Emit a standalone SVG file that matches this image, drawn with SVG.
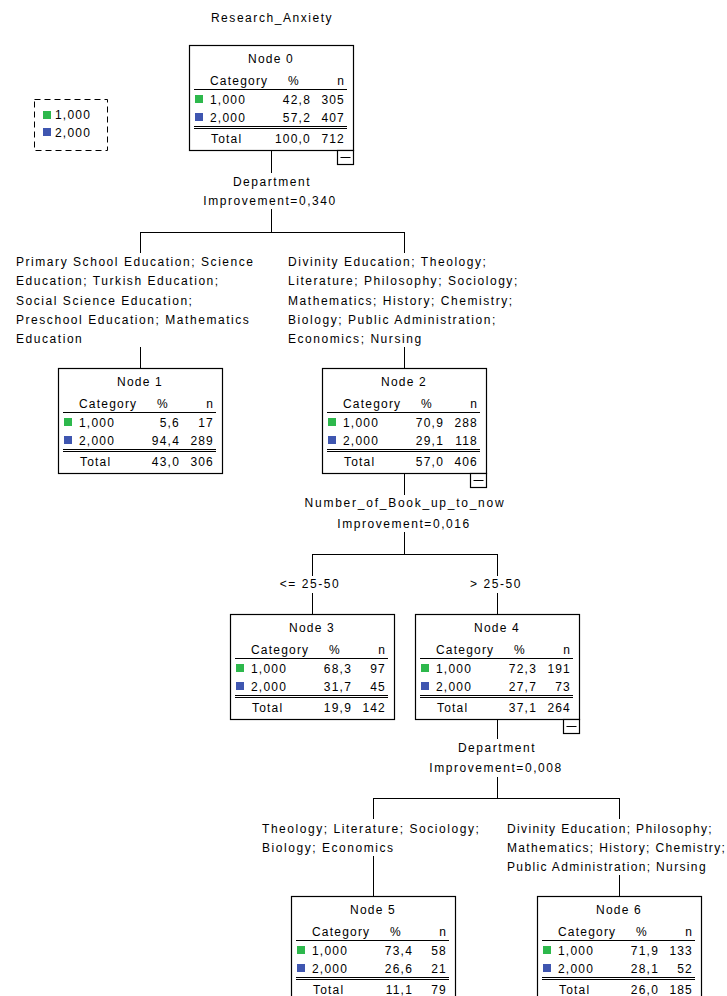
<svg xmlns="http://www.w3.org/2000/svg" width="727" height="996" viewBox="0 0 727 996">
<style>
text{font-family:"Liberation Sans",Arial,sans-serif;font-size:12px;letter-spacing:1.2px;fill:#000}
.lb{letter-spacing:1.55px}
.lb2{letter-spacing:1.35px}
.m{text-anchor:middle}
.e{text-anchor:end}
.box{fill:#fff;stroke:#000;stroke-width:1.2}
.ln{stroke:#000;stroke-width:1;fill:none}
.band{fill:#e8e8e8}
.g{fill:#2db84c}
.b{fill:#3f56b0}
</style>
<rect width="727" height="996" fill="#fff"/>
<text class="m lb" x="272" y="22">Research_Anxiety</text>
<g id="legend">
<rect x="34.5" y="99.5" width="73" height="51" fill="none" stroke="#000" stroke-width="1" stroke-dasharray="6,4"/>
<rect class="g" x="43" y="111" width="8" height="8"/>
<text x="55" y="119">1,000</text>
<rect class="b" x="43" y="128" width="8" height="8"/>
<text x="55" y="137">2,000</text>
</g>
<g id="connectors" class="ln">
<path class="ln" d="M271.5 150V173M271.5 209V232.5M140.5 232.5H404.5M140.5 232V253M404.5 232V253M140.5 347V368M404.5 347V368"/>
<path class="ln" d="M404.5 473V495M404.5 532V554.5M312.5 554.5H497.5M312.5 554V576M497.5 554V576M312.5 593V614M497.5 593V614"/>
<path class="ln" d="M497.5 719V739M497.5 777V798.5M373.5 798.5H619.5M373.5 798V819M619.5 798V819M373.5 856V896M619.5 875V896"/>
</g>
<g id="labels">
<text class="m lb" x="272" y="186">Department</text>
<text class="m lb" x="270" y="205">Improvement=0,340</text>
<text class="lb" x="16" y="266">Primary School Education; Science</text>
<text class="lb" x="16" y="285">Education; Turkish Education;</text>
<text class="lb" x="16" y="305">Social Science Education;</text>
<text class="lb" x="16" y="324">Preschool Education; Mathematics</text>
<text class="lb" x="16" y="343">Education</text>
<text class="lb" x="288" y="266">Divinity Education; Theology;</text>
<text class="lb" x="288" y="285">Literature; Philosophy; Sociology;</text>
<text class="lb" x="288" y="305">Mathematics; History; Chemistry;</text>
<text class="lb" x="288" y="324">Biology; Public Administration;</text>
<text class="lb" x="288" y="343">Economics; Nursing</text>
<text class="m" x="405" y="507" style="letter-spacing:1.75px">Number_of_Book_up_to_now</text>
<text class="m lb" x="404" y="528">Improvement=0,016</text>
<text class="m lb" x="310" y="588">&lt;= 25-50</text>
<text class="m lb" x="496" y="588">&gt; 25-50</text>
<text class="m lb" x="497" y="752">Department</text>
<text class="m lb" x="496" y="772">Improvement=0,008</text>
<text class="lb" x="262" y="833">Theology; Literature; Sociology;</text>
<text class="lb" x="262" y="852">Biology; Economics</text>
<text class="lb2" x="507" y="833">Divinity Education; Philosophy;</text>
<text class="lb2" x="507" y="852">Mathematics; History; Chemistry;</text>
<text class="lb2" x="507" y="871">Public Administration; Nursing</text>
</g>
<defs>
<g id="frame">
<rect class="box" x="0.5" y="0.5" width="164" height="105"/>
<text x="21" y="40">Category</text>
<text x="99" y="40">%</text>
<text class="e" x="156" y="40">n</text>
<line class="ln" x1="5" y1="44.5" x2="158" y2="44.5"/>
<line class="ln" x1="5" y1="81.5" x2="158" y2="81.5"/>
<line class="ln" x1="5" y1="83.5" x2="158" y2="83.5"/>
<text x="22" y="98">Total</text>
</g>
<g id="minus">
<rect class="box" x="148.5" y="105.5" width="16" height="14"/>
<line class="ln" x1="151.5" y1="112.5" x2="161.5" y2="112.5"/>
</g>
<rect id="band1" class="band" x="5" y="46" width="152" height="17"/>
<rect id="band2" class="band" x="5" y="64" width="152" height="16"/>
</defs>
<g id="node0" transform="translate(189,45)">
<use href="#band2"/><use href="#frame"/><use href="#minus"/>
<text class="m" x="82" y="18">Node 0</text>
<rect class="g" x="6" y="50" width="8" height="8"/><text x="21" y="59">1,000</text><text class="e" x="122" y="59">42,8</text><text class="e" x="156" y="59">305</text>
<rect class="b" x="6" y="68" width="8" height="8"/><text x="21" y="77">2,000</text><text class="e" x="122" y="77">57,2</text><text class="e" x="156" y="77">407</text>
<text class="e" x="122" y="98">100,0</text><text class="e" x="156" y="98">712</text>
</g>
<g id="node1" transform="translate(58,368)">
<use href="#band2"/><use href="#frame"/>
<text class="m" x="82" y="18">Node 1</text>
<rect class="g" x="6" y="50" width="8" height="8"/><text x="21" y="59">1,000</text><text class="e" x="122" y="59">5,6</text><text class="e" x="156" y="59">17</text>
<rect class="b" x="6" y="68" width="8" height="8"/><text x="21" y="77">2,000</text><text class="e" x="122" y="77">94,4</text><text class="e" x="156" y="77">289</text>
<text class="e" x="122" y="98">43,0</text><text class="e" x="156" y="98">306</text>
</g>
<g id="node2" transform="translate(322,368)">
<use href="#band1"/><use href="#frame"/><use href="#minus"/>
<text class="m" x="82" y="18">Node 2</text>
<rect class="g" x="6" y="50" width="8" height="8"/><text x="21" y="59">1,000</text><text class="e" x="122" y="59">70,9</text><text class="e" x="156" y="59">288</text>
<rect class="b" x="6" y="68" width="8" height="8"/><text x="21" y="77">2,000</text><text class="e" x="122" y="77">29,1</text><text class="e" x="156" y="77">118</text>
<text class="e" x="122" y="98">57,0</text><text class="e" x="156" y="98">406</text>
</g>
<g id="node3" transform="translate(230,614)">
<use href="#band1"/><use href="#frame"/>
<text class="m" x="82" y="18">Node 3</text>
<rect class="g" x="6" y="50" width="8" height="8"/><text x="21" y="59">1,000</text><text class="e" x="122" y="59">68,3</text><text class="e" x="156" y="59">97</text>
<rect class="b" x="6" y="68" width="8" height="8"/><text x="21" y="77">2,000</text><text class="e" x="122" y="77">31,7</text><text class="e" x="156" y="77">45</text>
<text class="e" x="122" y="98">19,9</text><text class="e" x="156" y="98">142</text>
</g>
<g id="node4" transform="translate(415,614)">
<use href="#band1"/><use href="#frame"/><use href="#minus"/>
<text class="m" x="82" y="18">Node 4</text>
<rect class="g" x="6" y="50" width="8" height="8"/><text x="21" y="59">1,000</text><text class="e" x="122" y="59">72,3</text><text class="e" x="156" y="59">191</text>
<rect class="b" x="6" y="68" width="8" height="8"/><text x="21" y="77">2,000</text><text class="e" x="122" y="77">27,7</text><text class="e" x="156" y="77">73</text>
<text class="e" x="122" y="98">37,1</text><text class="e" x="156" y="98">264</text>
</g>
<g id="node5" transform="translate(291,896)">
<use href="#band1"/><use href="#frame"/>
<text class="m" x="82" y="18">Node 5</text>
<rect class="g" x="6" y="50" width="8" height="8"/><text x="21" y="59">1,000</text><text class="e" x="122" y="59">73,4</text><text class="e" x="156" y="59">58</text>
<rect class="b" x="6" y="68" width="8" height="8"/><text x="21" y="77">2,000</text><text class="e" x="122" y="77">26,6</text><text class="e" x="156" y="77">21</text>
<text class="e" x="122" y="98">11,1</text><text class="e" x="156" y="98">79</text>
</g>
<g id="node6" transform="translate(537,896)">
<use href="#band1"/><use href="#frame"/>
<text class="m" x="82" y="18">Node 6</text>
<rect class="g" x="6" y="50" width="8" height="8"/><text x="21" y="59">1,000</text><text class="e" x="122" y="59">71,9</text><text class="e" x="156" y="59">133</text>
<rect class="b" x="6" y="68" width="8" height="8"/><text x="21" y="77">2,000</text><text class="e" x="122" y="77">28,1</text><text class="e" x="156" y="77">52</text>
<text class="e" x="122" y="98">26,0</text><text class="e" x="156" y="98">185</text>
</g>
</svg>
